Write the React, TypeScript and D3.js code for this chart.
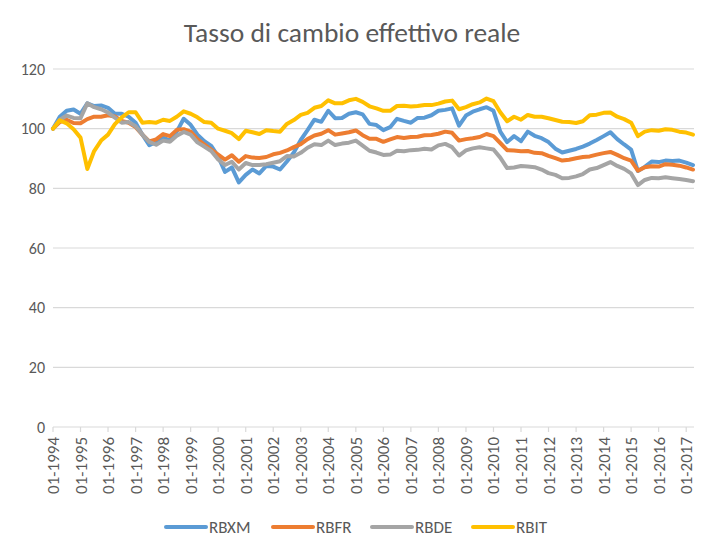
import React from 'react';
import { scaleLinear, scaleTime, line, timeYear } from 'd3';

// quarterly readings, Jan 1994 .. Apr 2017
const startYear = 1994;
const rbxm = [
  100, 104, 106, 106.4, 105, 108.5, 107.6, 107.8, 107, 105, 105, 104,
  102, 98, 94.5, 95.5, 97, 96, 99, 103.3, 101.3, 98, 95.8, 94.2,
  90.7, 85.5, 87, 82, 84.5, 86.3, 85, 87.5, 87.3, 86.3, 89, 92,
  96.2, 99.5, 103, 102.3, 106, 103.5, 103.6, 105, 105.5, 104.8, 101.6, 101.2,
  99.5, 100.5, 103.3, 102.6, 102, 103.6, 103.7, 104.5, 106, 106.3, 106.8, 101,
  104.4, 105.7, 106.5, 107.2, 106, 99, 95.5, 97.5, 95.8, 99, 97.6, 96.8,
  95.5, 93.3, 92, 92.6, 93.2, 94, 95, 96.2, 97.5, 98.8, 96.5, 94.7,
  93, 85.8, 87.2, 89, 88.8, 89.3, 89.2, 89.3, 88.6, 87.8,
];
const rbfr = [
  100, 102.2, 103, 101.9, 101.8, 103.2, 104, 104, 104.5, 104.1, 102.6, 102,
  100.5, 98, 95.7, 96.4, 98.2, 97.5, 99.6, 99.8, 99, 96.5, 94.7, 93,
  91.3, 89.6, 91.1, 88.9, 90.8, 90.3, 90.2, 90.5, 91.4, 91.9, 92.7, 93.8,
  94.8, 96.5, 97.7, 98.3, 99.5, 98, 98.4, 98.8, 99.4, 97.8, 96.6, 96.6,
  95.6, 96.4, 97.2, 96.9, 97.2, 97.3, 97.8, 97.9, 98.3, 99, 98.6, 96,
  96.5, 96.8, 97.2, 98.2, 97.5, 95.2, 92.8, 92.7, 92.4, 92.5, 91.9, 91.8,
  90.9, 90.1, 89.3, 89.6, 90.1, 90.5, 90.7, 91.3, 91.8, 92.2, 91.2, 90.1,
  89.3, 85.9, 87.1, 87.4, 87.3, 88.1, 87.9, 87.6, 87, 86.3,
];
const rbde = [
  100, 103, 104.4, 103.6, 103.5, 108.5, 107.2, 106.5, 105.4, 103.7, 102, 102.2,
  100.8, 98, 95.6, 94.6, 96, 95.6, 97.6, 98.9, 98, 95.4, 94, 92.5,
  89.7, 87.8, 88.9, 86.3, 88.5, 87.8, 87.8, 88.1, 88.6, 89.1, 90.8, 90.7,
  91.9, 93.6, 94.8, 94.5, 96, 94.5, 95, 95.3, 96, 94.3, 92.6, 92,
  91.2, 91.3, 92.6, 92.4, 92.8, 92.9, 93.3, 93, 94.4, 94.9, 93.8, 91,
  92.7, 93.4, 93.8, 93.4, 93, 90.3, 86.8, 87, 87.5, 87.3, 87.1, 86.3,
  85.1, 84.5, 83.4, 83.5, 84, 84.8, 86.3, 86.8, 87.8, 88.8, 87.5, 86.5,
  85, 81.1, 82.8, 83.5, 83.4, 83.7, 83.4, 83.1, 82.8, 82.4,
];
const rbit = [
  100, 102.8, 101.8, 99.8, 97, 86.5, 92.5, 96, 98, 101.5, 103.8, 105.5,
  105.5, 102, 102.2, 102, 103, 102.6, 104, 105.8, 105, 103.8, 102.2, 102,
  100, 99.3, 98.5, 96.5, 99.3, 98.8, 98.2, 99.5, 99.2, 99, 101.6, 102.9,
  104.6, 105.3, 107, 107.6, 109.5, 108.5, 108.5, 109.5, 110, 109, 107.5, 106.8,
  106, 106, 107.6, 107.7, 107.4, 107.6, 107.9, 107.9, 108.4, 109.1, 109.4, 106.5,
  107.2, 108.2, 108.8, 110.1, 109.2, 105.5, 102.5, 104, 103, 104.6, 104, 104,
  103.5, 102.9, 102.3, 102.2, 101.9, 102.5, 104.5, 104.7, 105.3, 105.4, 104, 103.2,
  102, 97.5, 99, 99.5, 99.3, 99.8, 99.6, 99, 98.7, 98,
];

const seriesNames = ['RBXM', 'RBFR', 'RBDE', 'RBIT'];
const seriesValues = [rbxm, rbfr, rbde, rbit];
const colors = ['#5b9bd5', '#ed7d31', '#a5a5a5', '#ffc000'];
const yTicks = [0, 20, 40, 60, 80, 100, 120];

const font = 'Calibri, Carlito, Lato, sans-serif';
const textColor = '#595959';

export default function App() {
  const W = 704;
  const H = 550;
  const left = 53;
  const right = 693;
  const top = 69;
  const bottom = 427;

  const dates = rbxm.map((_, i) => new Date(startYear, i * 3, 1));
  const x = scaleTime().domain([dates[0], dates[dates.length - 1]]).range([left, right]);
  const y = scaleLinear().domain([0, 120]).range([bottom, top]);
  const xTicks = timeYear.range(new Date(1994, 0, 1), new Date(2017, 1, 1));

  const pathFor = (vals: number[]) =>
    line<number>()
      .x((_, i) => x(dates[i]))
      .y((v) => y(v))(vals) || '';

  const legendX = [166, 273, 372, 473];

  return (
    <svg width={W} height={H} style={{ position: 'absolute', left: 0, top: 0, background: '#fff' }}>
      <text x={352} y={42} textAnchor="middle" fontFamily={font} fontSize={27.5} fill={textColor}>
        Tasso di cambio effettivo reale
      </text>

      {yTicks.map((t) => (
        <g key={t}>
          {t > 0 && <line x1={left} x2={right + 1} y1={y(t)} y2={y(t)} stroke="#d9d9d9" strokeWidth={1.2} />}
          <text x={45} y={y(t) + 5.5} textAnchor="end" fontFamily={font} fontSize={16} fill={textColor}>
            {t}
          </text>
        </g>
      ))}

      <line x1={left} x2={right + 1} y1={bottom} y2={bottom} stroke="#d9d9d9" strokeWidth={1.2} />
      {xTicks.map((d) => (
        <g key={d.getFullYear()}>
          <line x1={x(d)} x2={x(d)} y1={bottom} y2={bottom + 5} stroke="#d9d9d9" strokeWidth={1.2} />
          <text
            transform={`translate(${x(d) + 6},${bottom + 10}) rotate(-90)`}
            textAnchor="end"
            fontFamily={font}
            fontSize={17}
            fill={textColor}
          >
            {`01-${d.getFullYear()}`}
          </text>
        </g>
      ))}

      {seriesValues.map((vals, i) => (
        <path
          key={seriesNames[i]}
          d={pathFor(vals)}
          fill="none"
          stroke={colors[i]}
          strokeWidth={4}
          strokeLinejoin="round"
          strokeLinecap="round"
        />
      ))}

      {seriesNames.map((n, i) => (
        <g key={n}>
          <line x1={legendX[i]} x2={legendX[i] + 40} y1={527} y2={527} stroke={colors[i]} strokeWidth={4} strokeLinecap="round" />
          <text x={legendX[i] + 43} y={533} fontFamily={font} fontSize={17} fill={textColor}>
            {n}
          </text>
        </g>
      ))}
    </svg>
  );
}
